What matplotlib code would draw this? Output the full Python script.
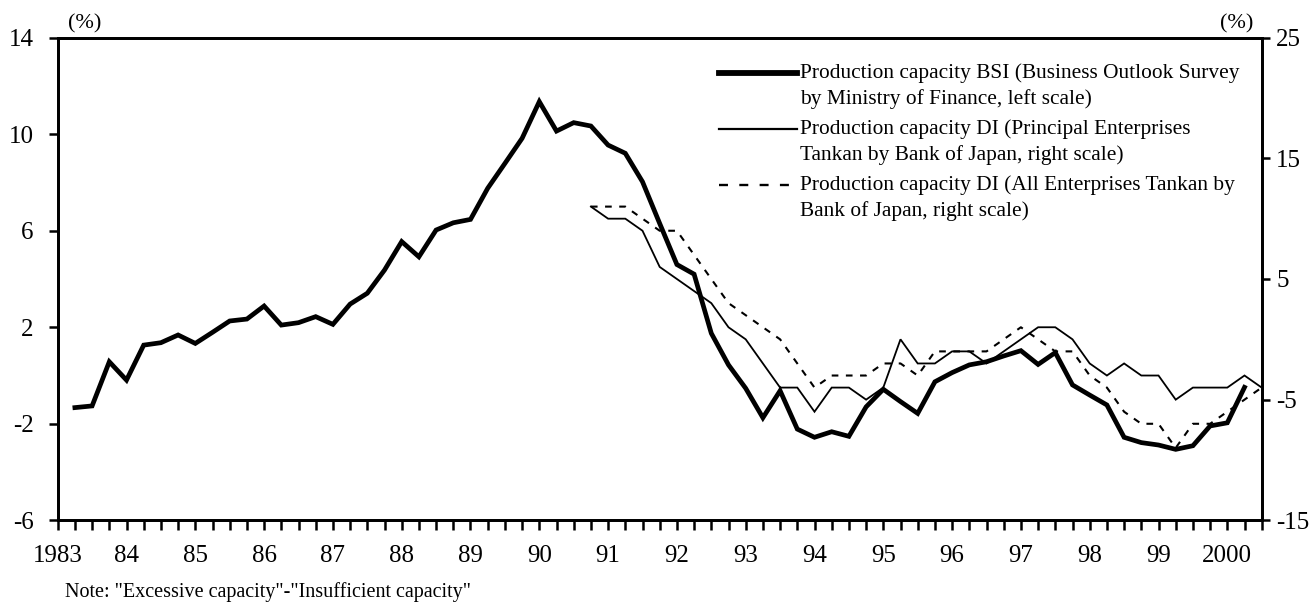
import matplotlib
matplotlib.use("Agg")
import matplotlib.pyplot as plt
from matplotlib.lines import Line2D
import numpy as np

plt.rcParams['font.family'] = ['Liberation Serif', 'DejaVu Serif']

# ---- data (quarterly positions; position 0 = start of 1983 axis) ----
x_labels = ['1983', '84', '85', '86', '87', '88', '89', '90', '91', '92',
            '93', '94', '95', '96', '97', '98', '99', '2000']

bsi_start = 1
bsi = [-1.33, -1.26, 0.57, -0.19, 1.26, 1.36, 1.68, 1.33, 1.79, 2.26,
       2.34, 2.88, 2.09, 2.19, 2.44, 2.12, 2.96, 3.41, 4.37, 5.55,
       4.92, 6.03, 6.33, 6.47, 7.76, 8.79, 9.83, 11.35, 10.13, 10.48,
       10.34, 9.55, 9.21, 8.03, 6.30, 4.60, 4.20, 1.75, 0.44, -0.53,
       -1.75, -0.63, -2.22, -2.56, -2.33, -2.52, -1.30, -0.57, -1.08, -1.57,
       -0.26, 0.12, 0.44, 0.57, 0.81, 1.03, 0.46, 0.95, -0.39, -0.81,
       -1.22, -2.56, -2.78, -2.88, -3.06, -2.91, -2.09, -1.96, -0.49]

di_start = 31
di_principal = [11, 10, 10, 9, 6, 5, 4, 3, 1, 0,
                -2, -4, -4, -6, -4, -4, -5, -4, 0, -2,
                -2, -1, -1, -2, -1, 0, 1, 1, 0, -2,
                -3, -2, -3, -3, -5, -4, -4, -4, -3, -4]
di_all = [11, 11, 11, 10, 9, 9, 7, 5, 3, 2,
          1, 0, -2, -4, -3, -3, -3, -2, -2, -3,
          -1, -1, -1, -1, 0, 1, 0, -1, -1, -3,
          -4, -6, -7, -7, -9, -7, -7, -6, -5, -4]

legend_labels = [
    "Production capacity BSI (Business Outlook Survey\nby Ministry of Finance, left scale)",
    "Production capacity DI (Principal Enterprises\nTankan by Bank of Japan, right scale)",
    "Production capacity DI (All Enterprises Tankan by\nBank of Japan, right scale)",
]

n_quarters = 70

# ---- figure ----
W, H = 1313, 603
fig = plt.figure(figsize=(W / 100, H / 100), dpi=100)
L, R, T, B = 57.7, 1261.7, 37.7, 520.3
ax = fig.add_axes([L / W, 1 - B / H, (R - L) / W, (B - T) / H])
ax2 = ax.twinx()

x_bsi = np.arange(bsi_start, bsi_start + len(bsi))
x_di = np.arange(di_start, di_start + len(di_principal))

ax.plot(x_bsi, bsi, color='black', lw=3.4, solid_joinstyle='miter', zorder=5)
ax2.plot(x_di, di_principal, color='black', lw=1.3, solid_joinstyle='miter')
ax2.plot(x_di, di_all, color='black', lw=1.5, dashes=(3.2, 3.6))

ax.set_zorder(ax2.get_zorder() + 1)
ax.patch.set_visible(False)

ax.set_xlim(0, n_quarters)
ax.set_ylim(-6, 14)
ax2.set_ylim(-15, 25)
ax.set_yticks([-6, -2, 2, 6, 10, 14])
ax.set_yticklabels(['-6', '-2', '2', '6', '10', '14'])
ax2.set_yticks([-15, -5, 5, 15, 25])
ax2.set_yticklabels(['-15', '-5', '5', '15', '25'])

ax.set_xticks(np.arange(0, n_quarters + 1))
ax.set_xticklabels([x_labels[i // 4] if i % 4 == 0 and i // 4 < len(x_labels) else ''
                    for i in range(n_quarters + 1)])

for a in (ax, ax2):
    for s in a.spines.values():
        s.set_linewidth(2.0)
        s.set_color('black')

ax.tick_params(axis='x', direction='out', length=7.5, width=1.8, pad=10, labelsize=18)
ax.tick_params(axis='y', direction='out', length=6.3, width=1.8, pad=11, labelsize=18)
ax2.tick_params(axis='y', direction='out', length=5.8, width=1.8, pad=4.5, labelsize=18)

# unit labels
fig.text(85 / W, 1 - 24 / H, '(%)', ha='center', va='center', fontsize=16)
fig.text(1237 / W, 1 - 24 / H, '(%)', ha='center', va='center', fontsize=16)

# legend keys drawn manually so each key lines up with the first text line
key_styles = [dict(lw=4.2), dict(lw=1.6), dict(lw=1.7, dashes=(3.8, 4.8))]
key_y = [73, 129, 185]
for lab, st, yk in zip(legend_labels, key_styles, key_y):
    yf = 1 - yk / H
    fig.add_artist(Line2D([719 / W, 797 / W], [yf, yf], color='black',
                          transform=fig.transFigure, **st))
    fig.text(800 / W, 1 - (yk - 10) / H, lab, ha='left', va='top',
             fontsize=15.4, linespacing=1.45)

fig.text(65 / W, 1 - 592 / H, 'Note: "Excessive capacity"-"Insufficient capacity"',
         ha='left', va='center', fontsize=14.5)

fig.savefig('out.png', dpi=100)
